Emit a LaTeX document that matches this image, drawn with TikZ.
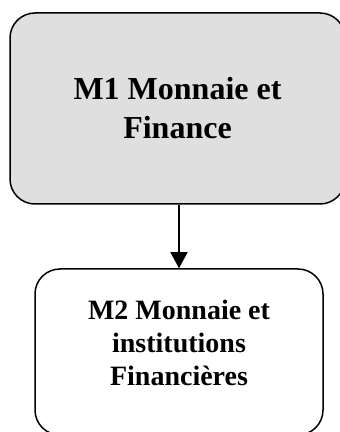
\documentclass[tikz,border=0pt]{standalone}
\usepackage{fontspec}
\setmainfont{Liberation Serif}
\usetikzlibrary{positioning}
\usetikzlibrary{arrows.meta}
\tikzset{
    mynode/.style = {rectangle, rounded corners=25pt, line width=1.5pt, draw=black, align=center, font=\bfseries},
    mynodeg/.style = {mynode, fill=gray!25},
    edgen/.style = {-{Triangle[length=16pt,width=17pt]}, line width=1.5pt},
}

\begin{document}
\begin{tikzpicture}[x=1pt,y=1pt]
\useasboundingbox (0,0) rectangle (340,432);
\node[mynodeg, minimum width=335pt, minimum height=191pt, font=\bfseries\fontsize{32}{39}\selectfont] at (177.5, 323.5) (m1) {M1 Monnaie et\\Finance};
\node[mynode, minimum width=288pt, minimum height=166pt, text depth=18pt, font=\bfseries\fontsize{28}{33}\selectfont] at (179, 80) (m2) {M2 Monnaie et\\institutions\\Financières};
%
\draw[edgen] (m1.south -| m2.north) -- (m2.north);
\end{tikzpicture}
\end{document}
